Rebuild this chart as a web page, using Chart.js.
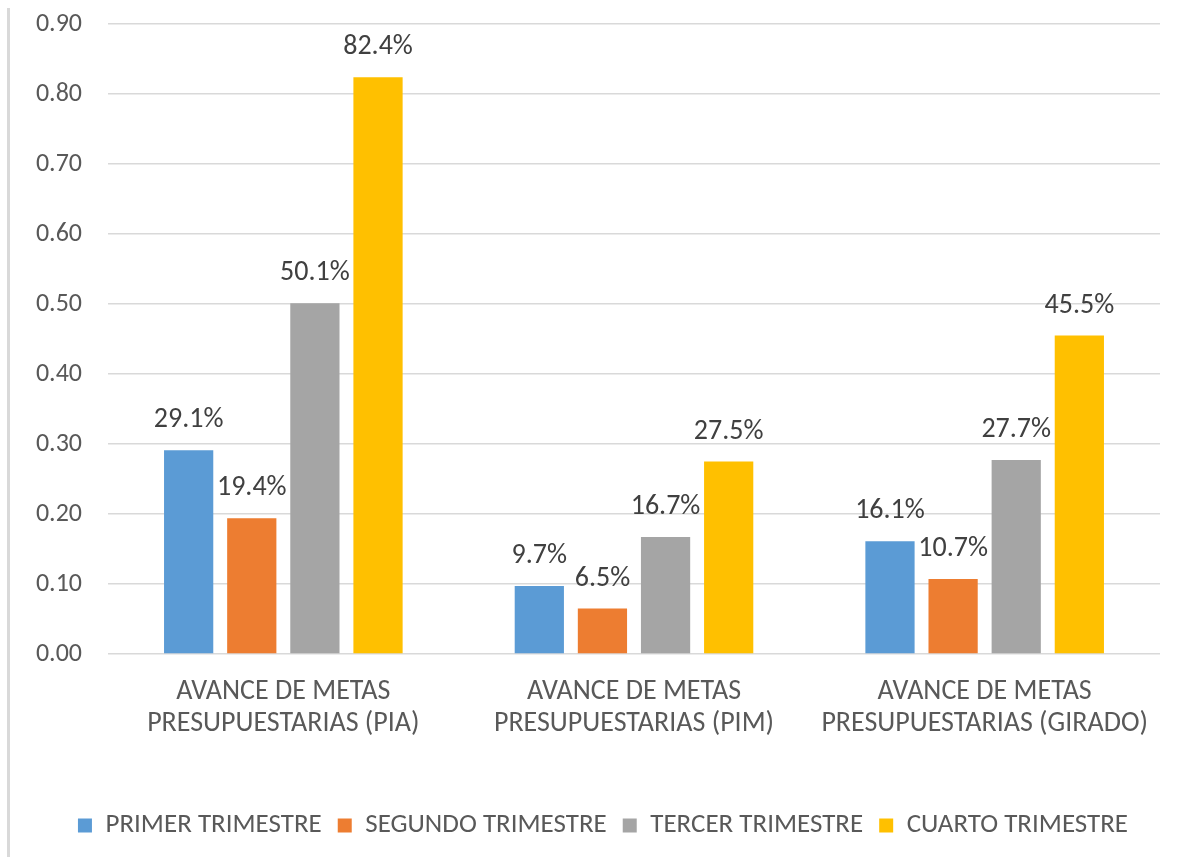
<!DOCTYPE html>
<html>
<head>
<meta charset="utf-8">
<script src="https://cdn.jsdelivr.net/npm/chart.js@4/dist/chart.umd.min.js"></script>
<style>
html,body{margin:0;padding:0;background:#fff;}
#wrap{position:relative;width:1191px;height:857px;}
</style>
</head>
<body>
<div id="wrap"><canvas id="c" width="1191" height="857"></canvas></div>
<script>
const categories = [
  ["AVANCE DE METAS", "PRESUPUESTARIAS (PIA)"],
  ["AVANCE DE METAS", "PRESUPUESTARIAS (PIM)"],
  ["AVANCE DE METAS", "PRESUPUESTARIAS (GIRADO)"]
];
const seriesNames = ["PRIMER TRIMESTRE", "SEGUNDO TRIMESTRE", "TERCER TRIMESTRE", "CUARTO TRIMESTRE"];
const primer = [0.291, 0.097, 0.161];
const segundo = [0.194, 0.065, 0.107];
const tercer = [0.501, 0.167, 0.277];
const cuarto = [0.824, 0.275, 0.455];
const colors = ["#5B9BD5", "#ED7D31", "#A5A5A5", "#FFC000"];

const FONT = "Carlito, Lato, 'Liberation Sans', sans-serif";

const labelPlugin = {
  id: 'barLabels',
  afterDatasetsDraw(chart) {
    const ctx = chart.ctx;
    ctx.save();
    ctx.font = "28px " + FONT;
    ctx.fillStyle = "#404040";
    ctx.textAlign = "center";
    ctx.textBaseline = "middle";
    chart.data.datasets.forEach((ds, i) => {
      const meta = chart.getDatasetMeta(i);
      meta.data.forEach((bar, j) => {
        const v = ds.data[j];
        ctx.fillText((v * 100).toFixed(1) + "%", bar.x, bar.y - 30);
      });
    });
    ctx.restore();
  }
};

const borderPlugin = {
  id: 'leftBorder',
  afterLayout(chart) {
    if (chart.legend) { chart.legend.left += 46; }
  },
  beforeDraw(chart) {
    const ctx = chart.ctx;
    ctx.save();
    ctx.fillStyle = "#fff";
    ctx.fillRect(0, 0, chart.width, chart.height);
    ctx.fillStyle = "#d9d9d9";
    ctx.fillRect(7, 8, 3, chart.height - 8);
    ctx.restore();
  }
};

new Chart(document.getElementById('c'), {
  type: 'bar',
  data: {
    labels: categories,
    datasets: [
      { label: seriesNames[0], data: primer, backgroundColor: colors[0] },
      { label: seriesNames[1], data: segundo, backgroundColor: colors[1] },
      { label: seriesNames[2], data: tercer, backgroundColor: colors[2] },
      { label: seriesNames[3], data: cuarto, backgroundColor: colors[3] }
    ]
  },
  options: {
    responsive: false,
    animation: false,
    layout: { padding: { left: 0, right: 31, top: 24, bottom: 8 } },
    datasets: { bar: { categoryPercentage: 0.72, barPercentage: 0.78 } },
    scales: {
      y: {
        min: 0, max: 0.9,
        ticks: {
          stepSize: 0.1,
          padding: 26,
          color: "#595959",
          font: { family: FONT, size: 26, lineHeight: 1.0 },
          callback: v => Number(v).toFixed(2)
        },
        grid: { color: "#d9d9d9", lineWidth: 1.5, drawTicks: false },
        border: { display: false },
        afterFit(scale) { scale.width = 108; scale.paddingTop = 0; scale.paddingBottom = 0; }
      },
      x: {
        ticks: {
          padding: 22,
          color: "#595959",
          font: { family: FONT, size: 28, lineHeight: 1.14 },
          maxRotation: 0
        },
        grid: { display: false, drawTicks: false },
        border: { display: false },
        afterFit(scale) { scale.height = 142; }
      }
    },
    plugins: {
      legend: {
        position: 'bottom',
        labels: {
          boxWidth: 14, boxHeight: 14,
          padding: 16,
          color: "#595959",
          font: { family: FONT, size: 27 }
        }
      },
      tooltip: { enabled: false }
    }
  },
  plugins: [borderPlugin, labelPlugin]
});
</script>
</body>
</html>
